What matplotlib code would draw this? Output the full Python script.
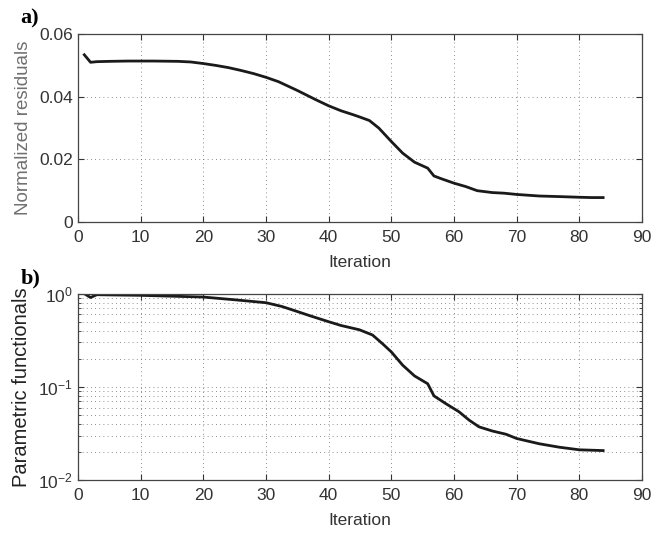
import matplotlib
matplotlib.use("Agg")
import matplotlib.pyplot as plt
from matplotlib.ticker import LogLocator, NullFormatter

plt.rcParams['font.family'] = ['Liberation Sans Narrow', 'Liberation Sans', 'DejaVu Sans']
plt.rcParams['mathtext.fontset'] = 'custom'
plt.rcParams['mathtext.rm'] = 'Liberation Sans'
plt.rcParams['mathtext.it'] = 'Liberation Sans'

# Panel a: normalized residuals
iter_a = [1, 2, 3, 5, 8, 12, 16, 18, 20, 22, 24, 26, 28, 30, 32, 35, 38, 40, 42, 44,
          45, 46.5, 48, 50, 51.8, 53.7, 55.8, 56.8, 58, 60, 61.9, 63.7, 66.1, 68, 70,
          73.6, 77, 80, 82, 83.8]
resid = [0.0534, 0.0510, 0.0512, 0.0513, 0.0514, 0.0514, 0.0513, 0.0511, 0.0506, 0.0500,
         0.0493, 0.0484, 0.0474, 0.0462, 0.0448, 0.0420, 0.0390, 0.0371, 0.0355, 0.0342,
         0.0335, 0.0324, 0.0300, 0.0257, 0.0220, 0.0191, 0.0172, 0.0147, 0.0138, 0.0124,
         0.0113, 0.0100, 0.0094, 0.0092, 0.0088, 0.0083, 0.0081, 0.0079, 0.0078, 0.0078]

# Panel b: parametric functionals
iter_b = [1, 2, 3, 5, 10, 15, 20, 25, 30, 32.5, 34.5, 37, 40, 42, 44.9, 47, 48.6, 50,
          51.8, 53.7, 55.8, 56.8, 58.7, 60.8, 62.4, 64, 66.1, 68.3, 70, 73.6, 76.8,
          80, 83.8]
func = [1.0, 0.91, 0.975, 0.97, 0.96, 0.94, 0.92, 0.86, 0.80, 0.73, 0.66, 0.58, 0.50,
        0.455, 0.41, 0.36, 0.29, 0.237, 0.171, 0.131, 0.108, 0.080, 0.066, 0.054,
        0.044, 0.0372, 0.0336, 0.031, 0.0279, 0.0245, 0.0225, 0.0211, 0.0207]

xticks = [0, 10, 20, 30, 40, 50, 60, 70, 80, 90]
yticks_a = [0, 0.02, 0.04, 0.06]
yticklabels_a = ['0', '0.02', '0.04', '0.06']

fig = plt.figure(figsize=(6.67, 5.33), dpi=100)
ax1 = fig.add_axes([0.117, 0.5835, 0.8455, 0.3525])
ax2 = fig.add_axes([0.117, 0.0994, 0.8455, 0.3496])

line_col = '#1a1a1a'
grid_kw = dict(color='#6a6a6a', linestyle=(0, (1, 4)), linewidth=0.6)

for ax in (ax1, ax2):
    ax.set_xlim(0, 90)
    ax.set_xticks(xticks)
    ax.tick_params(axis='both', which='both', direction='in', top=True, right=True,
                   labelsize=12.5, labelcolor='#333333', color='#333333')
    ax.tick_params(which='major', length=4)
    ax.tick_params(which='minor', length=2)
    ax.tick_params(axis='x', pad=6)
    for s in ax.spines.values():
        s.set_color('#444444')
        s.set_linewidth(0.9)
    ax.set_xlabel('Iteration', fontsize=12.5, color='#333333', labelpad=7)

ax1.plot(iter_a, resid, color=line_col, linewidth=2.0)
ax1.set_ylim(0, 0.06)
ax1.set_yticks(yticks_a)
ax1.set_yticklabels(yticklabels_a)
ax1.grid(True, which='major', **grid_kw)
ax1.set_ylabel('Normalized residuals', fontsize=13.5, color='#707070', labelpad=5)

ax2.semilogy(iter_b, func, color=line_col, linewidth=2.0)
ax2.set_ylim(1e-2, 1e0)
ax2.yaxis.set_major_locator(LogLocator(base=10, numticks=5))
ax2.yaxis.set_minor_locator(LogLocator(base=10, subs=range(2, 10), numticks=20))
ax2.yaxis.set_minor_formatter(NullFormatter())
ax2.grid(True, which='major', **grid_kw)
ax2.grid(True, which='minor', axis='y', **grid_kw)
ax2.set_ylabel('Parametric functionals', fontsize=14.5, color='#222222', labelpad=5)

fig.text(0.031, 0.966, 'a)', fontsize=16, fontweight='bold', family='Liberation Serif',
         va='center', ha='left')
fig.text(0.031, 0.478, 'b)', fontsize=16, fontweight='bold', family='Liberation Serif',
         va='center', ha='left')

fig.savefig('out.png', dpi=100)
